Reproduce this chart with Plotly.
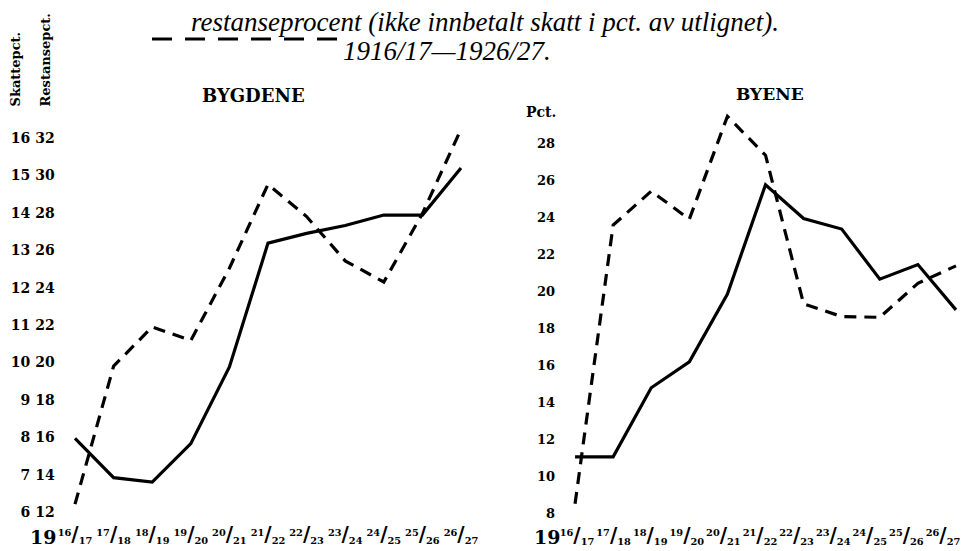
import plotly.graph_objects as go

# ---- data ----
seasons = ["1916/17", "1917/18", "1918/19", "1919/20", "1920/21", "1921/22",
           "1922/23", "1923/24", "1924/25", "1925/26", "1926/27"]
season_sup = ["16", "17", "18", "19", "20", "21", "22", "23", "24", "25", "26"]
season_sub = ["17", "18", "19", "20", "21", "22", "23", "24", "25", "26", "27"]

# BYGDENE: skatteprocent (solid, left column) and restanseprocent (dashed, right column)
bygd_skatt = [7.97, 6.92, 6.80, 7.83, 9.88, 13.19, 13.45, 13.66, 13.94, 13.94, 15.20]
bygd_restanse = [12.42, 19.80, 21.90, 21.17, 25.04, 29.52, 27.80, 25.43, 24.30, 27.96, 32.47]

# BYENE: both in Pct.
by_skatt = [11.04, 11.04, 14.77, 16.17, 19.84, 25.74, 23.92, 23.35, 20.64, 21.43, 18.98]
by_restanse = [8.50, 23.56, 25.40, 23.88, 29.44, 27.34, 19.31, 18.62, 18.58, 20.42, 21.36]

bygd_skatt_ticks = [6, 7, 8, 9, 10, 11, 12, 13, 14, 15, 16]
bygd_rest_ticks = [12, 14, 16, 18, 20, 22, 24, 26, 28, 30, 32]
by_ticks = [8, 10, 12, 14, 16, 18, 20, 22, 24, 26, 28]

# The page body has an 8px default margin: design in page pixels, convert here.
OFF = 8
W, H = 971 - OFF, 551 - OFF
SERIF = "DejaVu Serif"
ITAL = "Liberation Serif"


def fx(p):
    return (p - OFF) / W


def fy(p):
    return 1 - (p - OFF) / H


season_ticks = [f"<sup>{a}</sup><span style='font-size:20px'>/</span><sub>{b}</sub>"
                for a, b in zip(season_sup, season_sub)]
bygd_ticktext = [("\u2007" if s < 10 else "") + f"{s} {r}"
                 for s, r in zip(bygd_skatt_ticks, bygd_rest_ticks)]
idx = list(range(len(seasons)))

solid = dict(color="black", width=3.2)
dashed = dict(color="black", width=3.2, dash="12px,8px")

fig = go.Figure()
fig.add_trace(go.Scatter(x=idx, y=bygd_skatt, xaxis="x", yaxis="y3",
                         mode="lines", line=solid, name="Skattepct.", text=seasons))
fig.add_trace(go.Scatter(x=idx, y=bygd_restanse, xaxis="x", yaxis="y",
                         mode="lines", line=dashed, name="Restansepct.", text=seasons))
fig.add_trace(go.Scatter(x=idx, y=by_skatt, xaxis="x2", yaxis="y2",
                         mode="lines", line=solid, name="Skattepct.", text=seasons))
fig.add_trace(go.Scatter(x=idx, y=by_restanse, xaxis="x2", yaxis="y2",
                         mode="lines", line=dashed, name="Restansepct.", text=seasons))
# carrier for the BYENE label axis (the printed labels are spaced a little tighter)
fig.add_trace(go.Scatter(x=idx, y=by_skatt, xaxis="x4", yaxis="y2", mode="lines",
                         line=dict(width=0, color="rgba(0,0,0,0)"), hoverinfo="skip",
                         showlegend=False))

xtickfont = dict(family=SERIF, size=14, color="black", weight="bold")

base = dict(showgrid=False, zeroline=False, showline=False, ticks="",
            automargin=False, fixedrange=True)

fig.update_layout(
    width=W, height=H, autosize=False,
    margin=dict(l=0, r=0, t=0, b=0),
    paper_bgcolor="white", plot_bgcolor="white",
    showlegend=False,
    xaxis=dict(domain=[fx(55.7), fx(480.3)], range=[-0.5, 10.5], anchor="y",
               tickmode="array", tickvals=idx, ticktext=season_ticks, tickangle=0,
               tickfont=xtickfont, ticklabelstandoff=5, **base),
    yaxis=dict(domain=[fy(521.4), fy(119.3)], range=[11.5, 33], anchor="x",
               tickmode="array", tickvals=bygd_rest_ticks, ticktext=bygd_ticktext,
               tickfont=dict(family=SERIF, size=14, color="black", weight="bold"),
               **base),
    yaxis3=dict(overlaying="y", range=[5.75, 16.5], anchor="x", visible=False, **base),
    xaxis2=dict(domain=[fx(556), fx(959.8)], range=[-0.5, 10.1], anchor="y2",
                showticklabels=False, **base),
    xaxis4=dict(overlaying="x2", range=[-0.574, 10.46], anchor="y2",
                tickmode="array", tickvals=idx, ticktext=season_ticks, tickangle=0,
                tickfont=xtickfont, ticklabelstandoff=5, **base),
    yaxis2=dict(domain=[fy(522.3), fy(106)], range=[7.5, 30], anchor="x2",
                tickmode="array", tickvals=by_ticks, ticktext=[str(t) for t in by_ticks],
                tickfont=dict(family=SERIF, size=13, color="black", weight="bold"),
                **base),
)

ann = []
ann.append(dict(text="<i>restanseprocent (ikke innbetalt skatt i pct. av utlignet).</i>",
                x=fx(485), y=fy(22), xref="paper", yref="paper", showarrow=False,
                xanchor="center", yanchor="middle", borderpad=0,
                font=dict(family=ITAL, size=27, color="black")))
ann.append(dict(text="<i>1916/17\u20141926/27.</i>",
                x=fx(341), y=fy(51), xref="paper", yref="paper", showarrow=False,
                xanchor="left", yanchor="middle",
                font=dict(family=ITAL, size=27, color="black")))
ann.append(dict(text="<b>Skattepct.</b>", textangle=-90,
                x=fx(15), y=fy(109), xref="paper", yref="paper", showarrow=False,
                xanchor="center", yanchor="bottom",
                font=dict(family=SERIF, size=13, color="black")))
ann.append(dict(text="<b>Restansepct.</b>", textangle=-90,
                x=fx(45), y=fy(109), xref="paper", yref="paper", showarrow=False,
                xanchor="center", yanchor="bottom",
                font=dict(family=SERIF, size=13, color="black")))
ann.append(dict(text="<b>BYGDENE</b>", x=fx(253), y=fy(95), xref="paper", yref="paper",
                showarrow=False, xanchor="center", yanchor="middle",
                font=dict(family=SERIF, size=18, color="black")))
ann.append(dict(text="<b>BYENE</b>", x=fx(770), y=fy(94), xref="paper", yref="paper",
                showarrow=False, xanchor="center", yanchor="middle",
                font=dict(family=SERIF, size=17, color="black")))
ann.append(dict(text="<b>Pct.</b>", x=fx(524), y=fy(112), xref="paper", yref="paper",
                showarrow=False, xanchor="left", yanchor="middle",
                font=dict(family=SERIF, size=14, color="black")))
for xp in (58, 562):
    ann.append(dict(text="<b>19</b>", x=fx(xp), y=fy(537), xref="paper", yref="paper",
                    showarrow=False, xanchor="right", yanchor="middle",
                    font=dict(family=SERIF, size=19, color="black")))
fig.update_layout(annotations=ann)

# legend sample for the dashed series, beside the title
fig.add_shape(type="line", xref="paper", yref="paper",
              x0=fx(152), x1=fx(338), y0=fy(39), y1=fy(39),
              line=dict(color="black", width=3, dash="20px,13px"))

fig.write_html("out.html")
